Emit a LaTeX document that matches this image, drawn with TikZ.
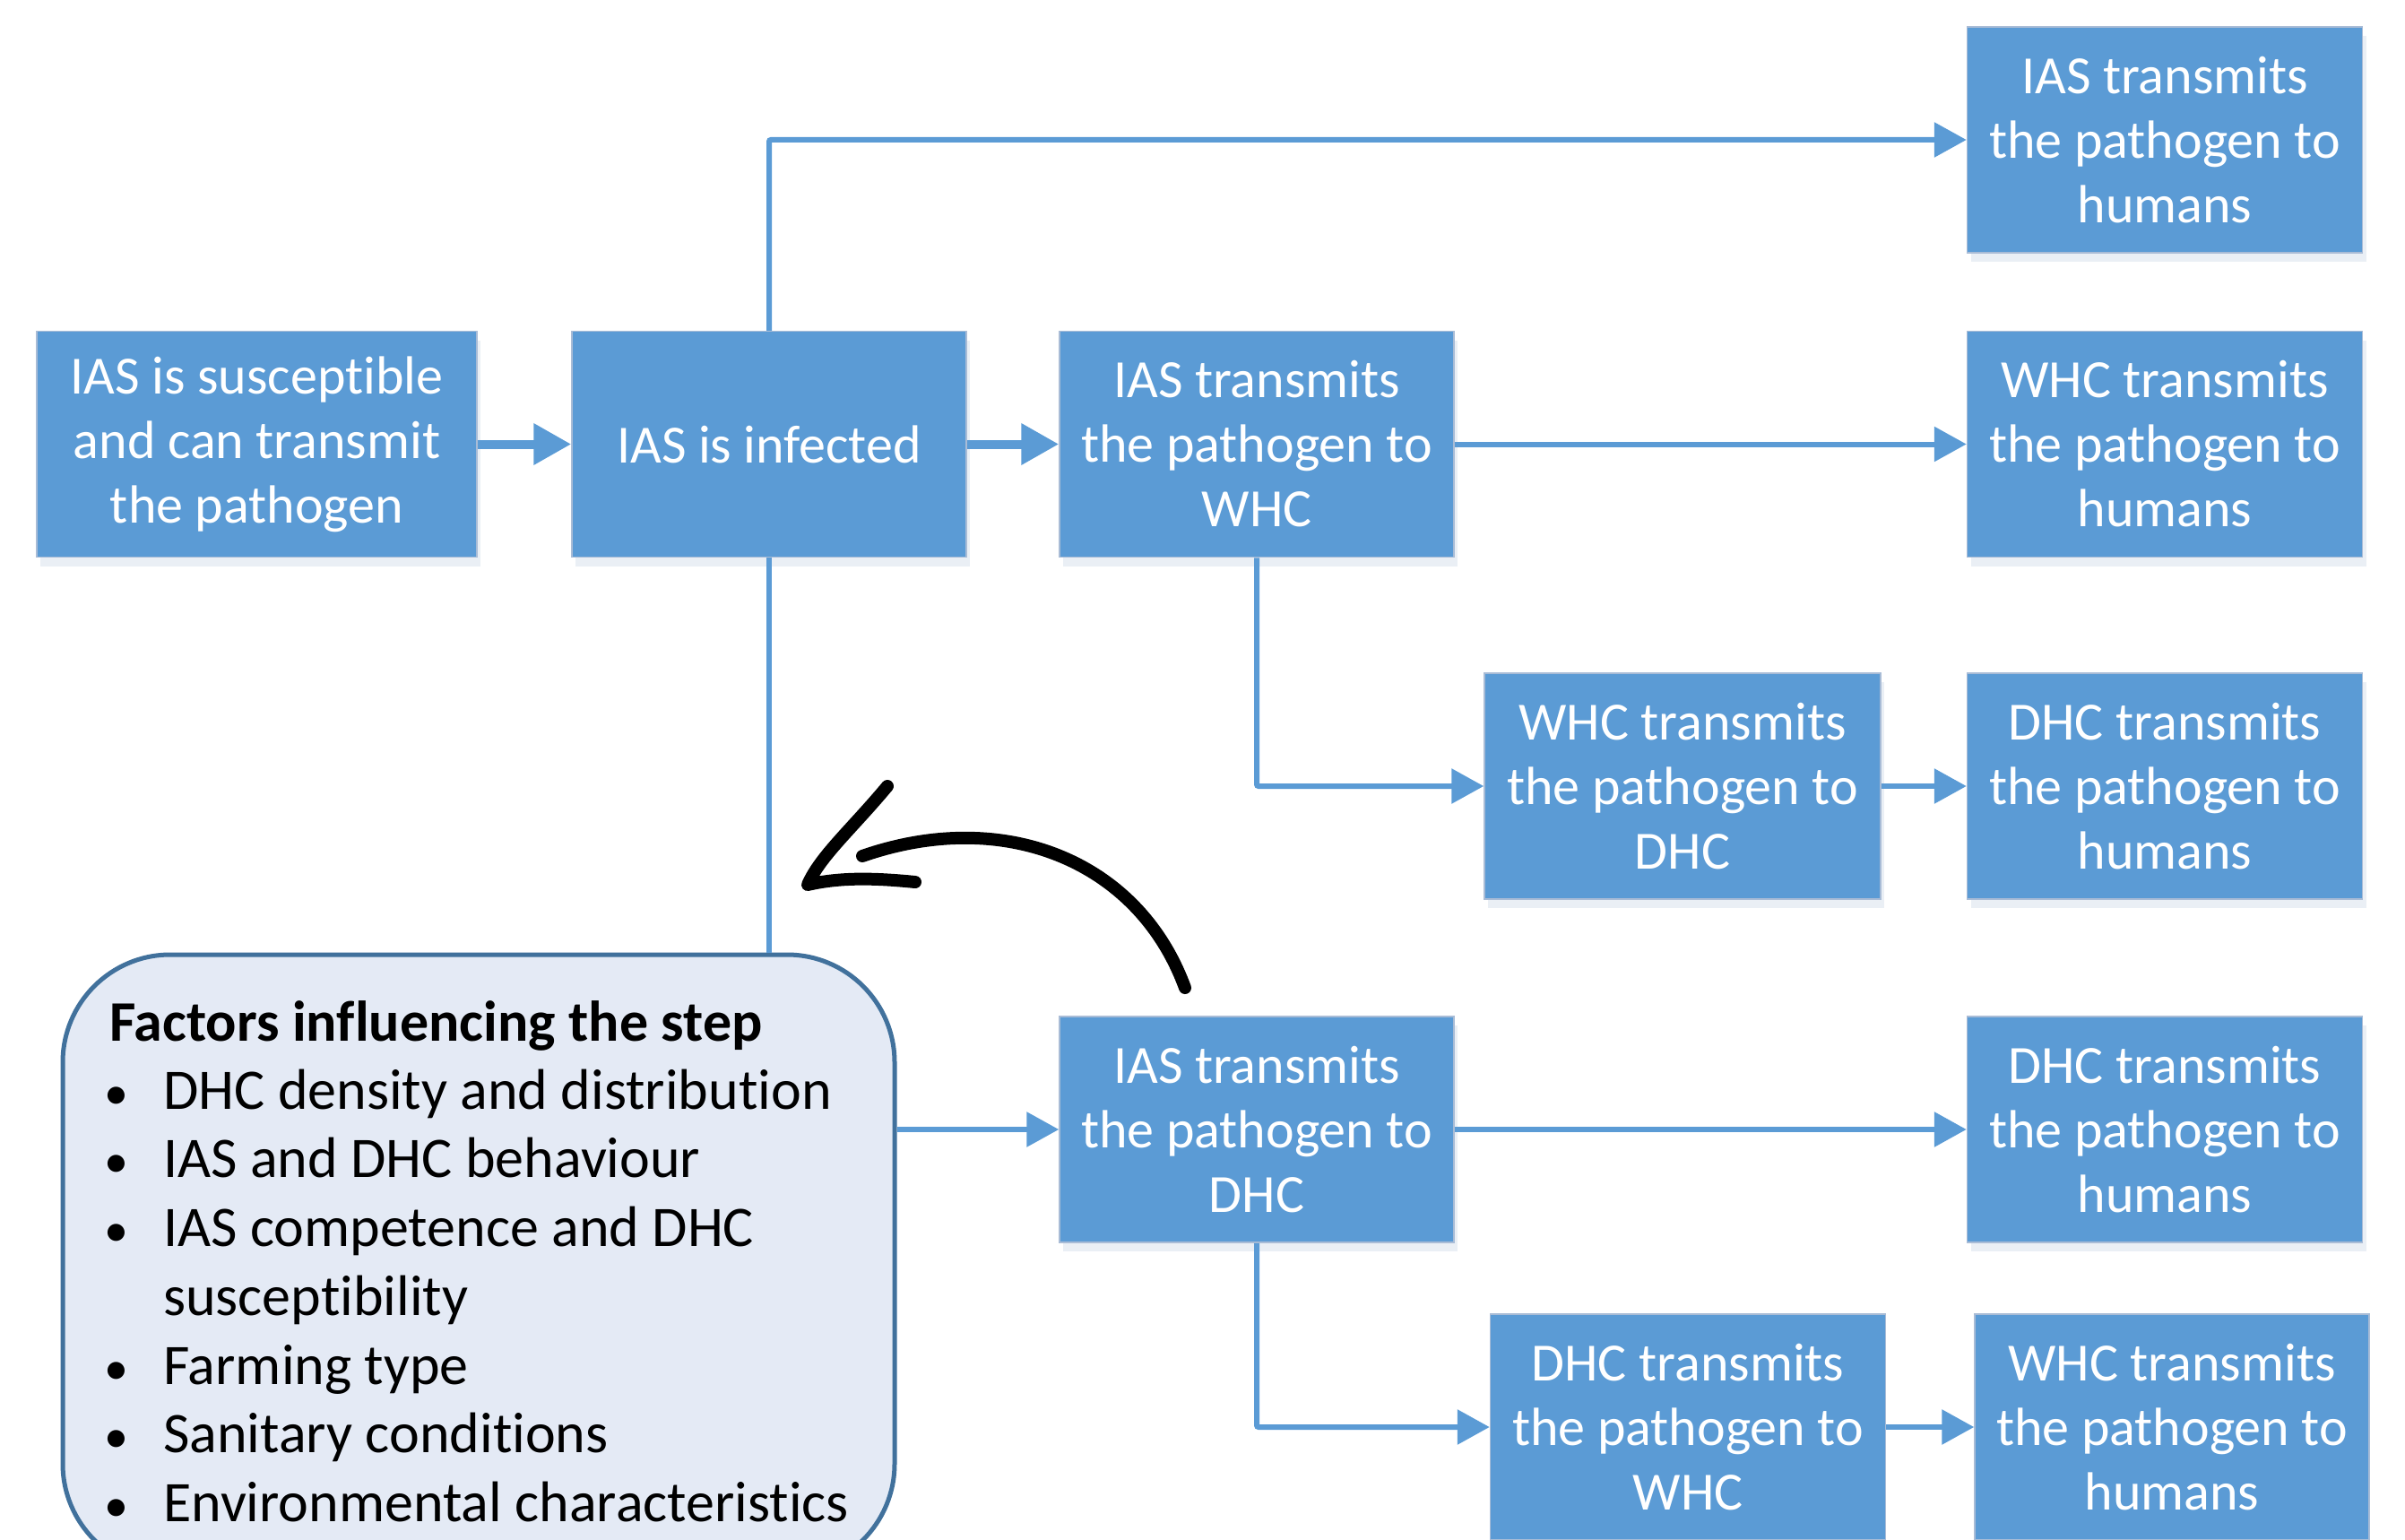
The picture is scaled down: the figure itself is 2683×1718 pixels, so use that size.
\documentclass[tikz,border=0pt]{standalone}
\usepackage{fontspec}
\setmainfont{Carlito}[Ligatures={NoCommon}]
\usetikzlibrary{arrows.meta}
\definecolor{boxblue}{HTML}{5B9BD5}
\definecolor{boxedge}{HTML}{A9BCD6}
\definecolor{shadowc}{HTML}{DCE4EE}
\definecolor{factfill}{HTML}{E4EAF5}
\definecolor{factedge}{HTML}{41719C}
\tikzset{
  stepbox/.style={rectangle, fill=boxblue, draw=boxedge, line width=1.5pt,
    minimum width=440pt, minimum height=252pt, inner sep=0pt,
    text=white, align=center, font=\fontsize{60}{72}\selectfont},
  thinconn/.style={draw=boxblue, line width=6pt,
    -{Triangle[length=36pt,width=38pt]}},
  thickconn/.style={draw=boxblue, line width=10pt,
    -{Triangle[length=42pt,width=44pt]}},
  plainconn/.style={draw=boxblue, line width=6pt},
  facttext/.style={inner sep=0pt, anchor=base west, font=\fontsize{64}{76}\selectfont},
  bulletmark/.style={inner sep=0pt, anchor=base, font=\fontsize{54}{76}\selectfont},
  handarrow/.style={draw=black, line width=14pt, line cap=round, line join=round}
}
\begin{document}
\begin{tikzpicture}[x=1pt,y=-1pt]
\useasboundingbox (0,0) rectangle (2683,1718);
% shadows
\foreach \cx/\cy/\w in {286.5/495.5/491, 858/495.5/440, 1402/495.5/440, 2415/156/441, 2415/495.5/441, 1877/877/442, 2415/877/441, 1402/1260/440, 2415/1260/441}
  \fill[shadowc, opacity=0.6] (\cx-\w/2+4, \cy-126+10) rectangle (\cx+\w/2+4, \cy+126+10);
% boxes
\node[stepbox, minimum width=491pt] (A) at (286.5,495.5) {IAS is susceptible\\and can transmit\\the pathogen};
\node[stepbox] (B) at (858,495.5) {IAS is infected};
\node[stepbox] (C) at (1402,495.5) {IAS transmits\\the pathogen to\\WHC};
\node[stepbox, minimum width=441pt] (R1) at (2415,156) {IAS transmits\\the pathogen to\\humans};
\node[stepbox, minimum width=441pt] (R2) at (2415,495.5) {WHC transmits\\the pathogen to\\humans};
\node[stepbox, minimum width=442pt] (D) at (1877,877) {WHC transmits\\the pathogen to\\DHC};
\node[stepbox, minimum width=441pt] (R3) at (2415,877) {DHC transmits\\the pathogen to\\humans};
\node[stepbox] (E) at (1402,1260) {IAS transmits\\the pathogen to\\DHC};
\node[stepbox, minimum width=441pt] (R4) at (2415,1260) {DHC transmits\\the pathogen to\\humans};
\node[stepbox, minimum width=441pt] (F) at (1883,1592) {DHC transmits\\the pathogen to\\WHC};
\node[stepbox] (R6) at (2423,1592) {WHC transmits\\the pathogen to\\humans};
% factors box
\node[draw=factedge, fill=factfill, line width=5pt, rounded corners=120pt,
  minimum width=928pt, minimum height=688pt, inner sep=0pt] (FB) at (534,1409) {};
\node[facttext] (t0) at (122,1161) {\bfseries Factors influencing the step};
\node[bulletmark] (b1) at (130,1237) {•};
\node[facttext] (t1) at (182,1237) {DHC density and distribution};
\node[bulletmark] (b2) at (130,1313) {•};
\node[facttext] (t2) at (182,1313) {IAS and DHC behaviour};
\node[bulletmark] (b3) at (130,1390) {•};
\node[facttext] (t3) at (182,1390) {IAS competence and DHC};
\node[facttext] (t3b) at (182,1467) {susceptibility};
\node[bulletmark] (b4) at (130,1544) {•};
\node[facttext] (t4) at (182,1544) {Farming type};
\node[bulletmark] (b5) at (130,1620) {•};
\node[facttext] (t5) at (182,1620) {Sanitary conditions};
\node[bulletmark] (b6) at (130,1697) {•};
\node[facttext] (t6) at (182,1697) {Environmental characteristics};
% connectors
\draw[thickconn] (A.east) -- (B.west);
\draw[thickconn] (B.east) -- (C.west);
\draw[thinconn] (C.east) -- (R2.west);
\draw[thinconn, rounded corners=2pt] (B.north) |- (R1.west);
\draw[thinconn, rounded corners=2pt] (C.south) |- (D.west);
\draw[thinconn] (D.east) -- (R3.west);
\draw[plainconn] (B.south) -- (B.south |- FB.north);
\draw[thinconn] (E.west -| FB.east) -- (E.west);
\draw[thinconn] (E.east) -- (R4.west);
\draw[thinconn, rounded corners=2pt] (E.south) |- (F.west);
\draw[thinconn] (F.east) -- (R6.west);
% hand-drawn arrow
\coordinate (h0) at (1322,1102);
\coordinate (h1) at (962,955);
\coordinate (htip) at (901,987);
\coordinate (hup) at (990,877);
\coordinate (hlow) at (1021,984);
\draw[handarrow] (h0) .. controls (1270,960) and (1120,900) .. (h1);
\draw[handarrow] (hup) .. controls (950,925) and (915,955) .. (htip) .. controls (940,978) and (980,980) .. (hlow);
\end{tikzpicture}
\end{document}
